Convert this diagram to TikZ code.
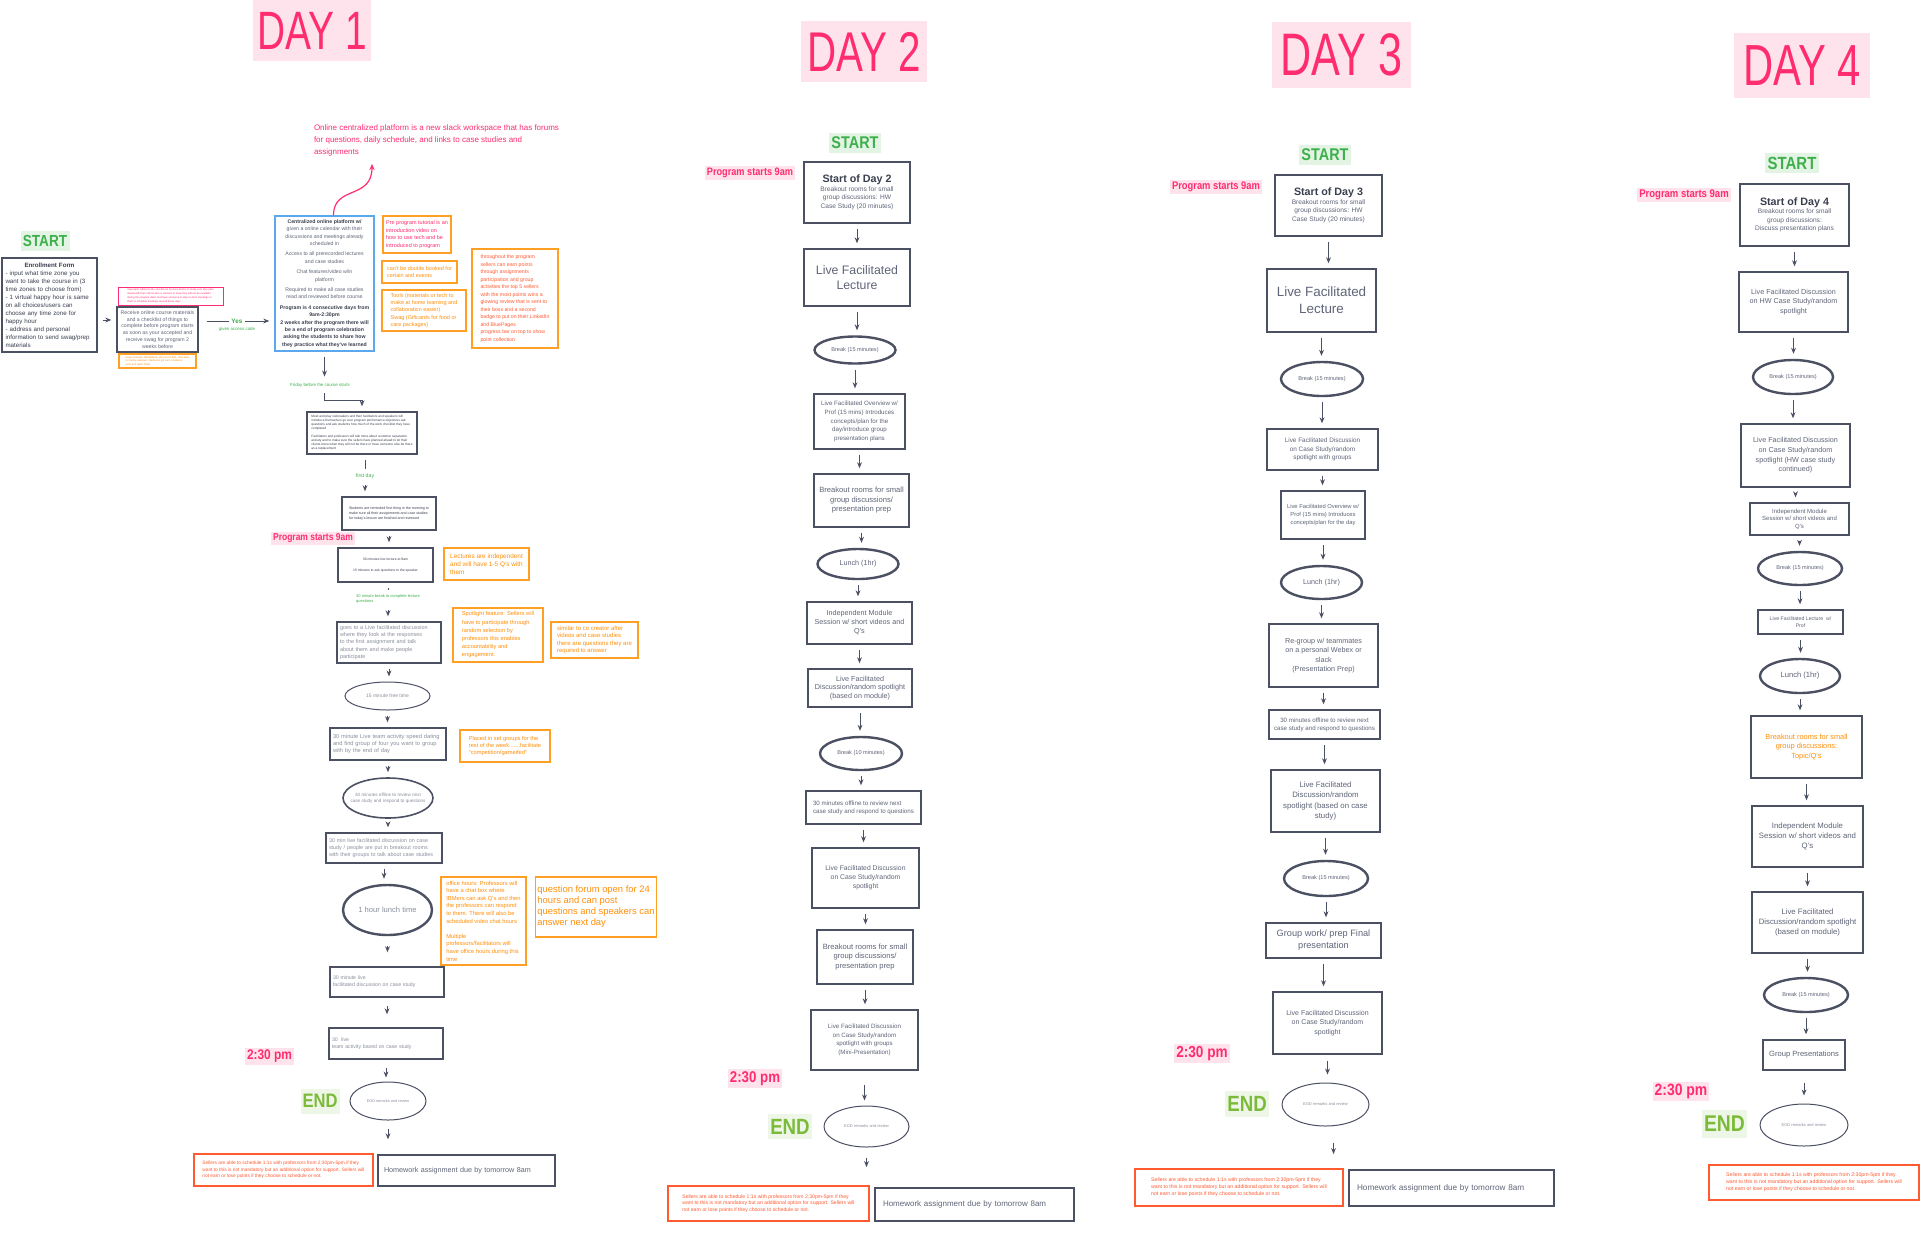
\documentclass[tikz,border=0pt]{standalone}
\usepackage{fontspec}
\setmainfont{Liberation Sans}
\newfontfamily\dayfont[FakeStretch=0.72]{Liberation Sans}
\newfontfamily\tagfont[FakeStretch=0.85]{Liberation Sans}
\usepackage{tikz}
\usetikzlibrary{arrows.meta,positioning,shapes.geometric}
\definecolor{fcline}{HTML}{4B5063}
\definecolor{fctext}{HTML}{5F6578}
\definecolor{fcpale}{HTML}{8A8F9C}
\definecolor{fcdark}{HTML}{3A3F4F}
\definecolor{fcorange}{HTML}{FFA024}
\definecolor{fcotext}{HTML}{FF8F0A}
\definecolor{fcpink}{HTML}{FF2D6F}
\definecolor{fcpinkbg}{HTML}{FFE3EC}
\definecolor{fcred}{HTML}{FF5A30}
\definecolor{fcgreen}{HTML}{3DB04B}
\definecolor{fcgreenbg}{HTML}{E4F4E4}
\definecolor{fclime}{HTML}{7CBB3A}
\definecolor{fclimebg}{HTML}{EEF6E8}
\definecolor{fcblue}{HTML}{5BA8EE}
\newcommand\fsz[2]{\fontsize{#1}{#2}\selectfont}
\newcommand\bdk[1]{\textcolor{fcdark}{\textbf{#1}}}

\begin{document}
\begin{tikzpicture}[x=0.5pt,y=-0.5pt,
    box/.style={draw=fcline,line width=0.7pt,fill=white,align=center,inner sep=1.5pt,text=fctext},
    leftbox/.style={box,align=left,text=fcpale,inner xsep=1.5pt},
    oval/.style={ellipse,draw=fcline,line width=0.5pt,fill=white,inner sep=0pt,align=center,text=fcpale},
    brk/.style={oval,line width=1.2pt,text=fctext},
    onote/.style={draw=fcorange,line width=0.9pt,align=left,inner sep=1pt,text=fcotext},
    rnote/.style={draw=fcred,line width=0.9pt,align=left,inner sep=1pt,text=fcred},
    daytag/.style={fill=fcpinkbg,text=fcpink,inner sep=0pt},
    starttag/.style={fill=fcgreenbg,text=fcgreen,inner sep=1pt},
    endtag/.style={fill=fclimebg,text=fclime,inner sep=1pt},
    timetag/.style={fill=fcpinkbg,text=fcpink,inner sep=1pt},
    cue/.style={text=fcgreen,align=left,inner sep=0.5pt},
    arr/.style={-{Stealth[length=3pt,width=2.4pt]},fcline,line width=0.5pt,shorten <=2.5pt,shorten >=2.5pt},
    ln/.style={fcline,line width=0.5pt,shorten <=2.5pt,shorten >=1.5pt}]
  \fill[white] (0,0) rectangle (1920,1232);
  \useasboundingbox (0,0) rectangle (1920,1232);

  % ---------- day 1 ----------
  \node[daytag,font=\dayfont\fsz{27}{27},minimum width=59pt,minimum height=30.5pt] (day1) at (312,30.5) {DAY 1};
  \node[text=fcpink,align=left,font=\fsz{4}{6},inner sep=0pt] (slack) at (436.5,140)
    {Online centralized platform is a new slack workspace that has forums\\for questions, daily schedule, and links to case studies and\\assignments};
  \coordinate (slackfoot) at (372,164);
  \node[starttag,font=\tagfont\bfseries\fsz{8}{8},minimum width=24.5pt,minimum height=10pt] (start1) at (45,241) {START};
  \node[box,align=left,text width=44pt,inner xsep=1.75pt,text=fcdark,font=\fsz{3.1}{4},minimum height=47pt] (enroll) at (49.5,305)
    {{\centering\textbf{Enrollment Form}\par}- input what time zone you\\want to take the course in (3\\time zones to choose from)\\- 1 virtual happy hour is same\\on all choices/users can\\choose any time zone for\\happy hour\\- address and personal\\information to send swag/prep\\materials};
  \node[draw=fcpink,line width=0.5pt,text=fcpink,align=left,font=\fsz{1.3}{1.9},inner sep=1pt,minimum width=52.5pt,minimum height=9pt] (warn) at (170.5,296)
    {Important! Added to the checklist to be done before to make sure they plan\\ahead with their clients and co workers to know they will not be available\\during the program dates and have someone to step in client meetings or\\them to schedule meetings around these days};
  \node[box,font=\fsz{2.6}{3.4},minimum width=40.5pt,minimum height=22.5pt] (recv) at (157.5,329.5)
    {Receive online course materials\\and a checklist of things to\\complete before program starts\\as soon as your accepted and\\receive swag for program 2\\weeks before};
  \node[onote,line width=0.6pt,font=\fsz{1.3}{1.8},minimum width=38.5pt,minimum height=7pt] (swag) at (157.5,361)
    {Swag includes: Rocketbook, gift card of \$50, Uber Eats\\for family, webcam, Starbucks gift card, notebook,\\pens and water bottle};
  \node[text=fcgreen,font=\bfseries\fsz{3.2}{3.2},inner sep=1pt] (yes) at (237,321) {Yes};
  \node[text=fcgreen,font=\fsz{2.2}{2.2},inner sep=0pt,below=0.5pt of yes] (code) {given access code};
  \node[box,draw=fcblue,font=\fsz{2.6}{3.7},minimum width=49.5pt,minimum height=67.5pt] (plat) at (324.5,283.5)
    {\bdk{Centralized online platform w/}\\given a online calendar with their\\discussions and meetings already\\scheduled in\\[1.5pt]Access to all prerecorded lectures\\and case studies\\[1.5pt]Chat features/video w/in\\platform\\[1.5pt]Required to make all case studies\\read and reviewed before course\\[1.5pt]\bdk{Program is 4 consecutive days from}\\\bdk{9am-2:30pm}\\\bdk{2 weeks after the program there will}\\\bdk{be a end of program celebration}\\\bdk{asking the students to share how}\\\bdk{they practice what they've learned}};
  \node[onote,text=fcpink,font=\fsz{2.75}{3.7},minimum width=34pt,minimum height=18.5pt] (tutorial) at (417,234.5)
    {Pre program tutorial is an\\introduction video on\\how to use tech and be\\introduced to program};
  \node[onote,font=\fsz{2.75}{3.7},minimum width=37.5pt,minimum height=11pt] (booked) at (419.5,272)
    {can't be double booked for\\certain and events};
  \node[onote,font=\fsz{2.75}{3.7},minimum width=42pt,minimum height=20.5pt] (tools) at (424,310.5)
    {Tools (materials or tech to\\make at home learning and\\collaboration easier)\\Swag (Giftcards for food or\\care packages)};
  \node[onote,text=fcred,font=\fsz{2.6}{3.75},minimum width=43pt,minimum height=49.5pt] (points) at (515,298.5)
    {throughout the program\\sellers can earn points\\through assignments\\participation and group\\activities the top 5 sellers\\with the most points wins a\\glowing review that is sent to\\their boss and a second\\badge to put on their LinkedIn\\and BluePages\\progress bar on top to show\\point collection};
  \node[cue,font=\fsz{2.2}{2.2}] (friday) at (320,385) {Friday before the course starts};
  \node[box,align=left,text=fcdark,font=\fsz{1.6}{2},minimum width=55pt,minimum height=21pt] (fridaybox) at (362,433)
    {Meet and play icebreakers and then facilitators and speakers will\\introduce themselves go over program performance objectives ask\\questions and ask students how much of the work checklist they have\\completed\\[2pt]Facilitators and professors will talk more about customer separation\\anxiety and to make sure the sellers have planned ahead to let their\\clients know when they will not be there or have someone else be there\\as a replacement};
  \node[cue,font=\fsz{2.6}{2.6}] (firstday) at (365,476) {first day};
  \node[box,align=left,text=fcdark,font=\fsz{1.8}{2.4},minimum width=47pt,minimum height=16.5pt] (students) at (389,513.5)
    {Students are reminded first thing in the morning to\\make sure all their assignments and case studies\\for today's lesson are finished and reviewed};
  \node[timetag,font=\tagfont\bfseries\fsz{5}{5},minimum width=40pt,minimum height=6.5pt] (nine1) at (313,538.5) {Program starts 9am};
  \node[box,text=fcdark,font=\fsz{1.7}{2.2},minimum width=47.5pt,minimum height=17pt] (lecture1) at (385.5,565)
    {30 minutes live lecture at 9am\\[3pt]15 minutes to ask questions to the speaker};
  \node[onote,font=\fsz{3.2}{4},minimum width=42.5pt,minimum height=16pt] (indep) at (486.5,564)
    {Lectures are independent\\and will have 1-5 Q's with\\them};
  \node[cue,font=\fsz{2}{2.5}] (qbreak) at (388,599) {30 minute break to complete lecture\\questions};
  \node[leftbox,text width=49pt,font=\fsz{2.75}{3.65},minimum height=20.5pt] (discuss) at (389,642.5)
    {goes to a Live facilitated discussion\\where they look at the responses\\to the first assignment and talk\\about them and make people\\participate};
  \node[onote,font=\fsz{2.85}{4.1},minimum width=45pt,minimum height=27pt] (spotlight) at (498,635)
    {Spotlight feature: Sellers will\\have to participate through\\random selection by\\professors this enables\\accountability and\\engagement.};
  \node[onote,font=\fsz{3}{3.7},minimum width=43.5pt,minimum height=18pt] (cocreator) at (594.5,640)
    {similar to co creator after\\videos and case studies\\there are questions they are\\required to answer};
  \node[oval,font=\fsz{2.5}{3},minimum width=42.5pt,minimum height=14pt] (free) at (387.5,696) {15 minute free time};
  \node[leftbox,text width=55pt,font=\fsz{2.85}{3.65},minimum height=16pt] (speed) at (388,744)
    {30 minute Live team activity speed dating\\and find group of four you want to group\\with by the end of day};
  \node[onote,font=\fsz{2.85}{3.7},minimum width=45pt,minimum height=16pt] (groups) at (505,746)
    {Placed in set groups for the\\rest of the week.......facilitate\\``competition/gameifed''};
  \node[oval,line width=0.8pt,inner xsep=-3pt,font=\fsz{2.3}{3},minimum width=45pt,minimum height=20pt] (offline1) at (388,798)
    {30 minutes offline to review next\\case study and respond to questions};
  \node[leftbox,text width=55pt,font=\fsz{2.7}{3.65},minimum height=15pt] (breakout1) at (384,848)
    {30 min live facilitated discussion on case\\study / people are put in breakout rooms\\with their groups to talk about case studies};
  \node[brk,text=fcpale,font=\fsz{3.8}{4},minimum width=44.5pt,minimum height=25pt] (lunch1) at (387.5,910) {1 hour lunch time};
  \node[onote,font=\fsz{2.9}{3.8},minimum width=42.5pt,minimum height=44pt] (office) at (483.5,921)
    {office hours: Professors will\\have a chat box where\\IBMers can ask Q's and then\\the professors can respond\\to them. There will also be\\scheduled video chat hours\\[3.8pt]Multiple\\professors/facilitators will\\have office hours during this\\time};
  \node[onote,font=\fsz{4.7}{5.5},minimum width=60pt,minimum height=30pt] (forum) at (596,907)
    {question forum open for 24\\hours and can post\\questions and speakers can\\answer next day};
  \node[leftbox,text width=54pt,font=\fsz{2.6}{3.6},minimum height=15pt] (casestudy1) at (387,982)
    {30 minute live\\facilitated discussion on case study};
  \node[leftbox,text width=54pt,font=\fsz{2.6}{3.6},minimum height=15.5pt] (team1) at (386,1043.5)
    {30\ \ live\\team activity based on case study};
  \node[timetag,font=\tagfont\bfseries\fsz{7}{7},minimum width=24pt,minimum height=8pt] (half1) at (269.5,1056.5) {2:30 pm};
  \node[endtag,font=\tagfont\bfseries\fsz{9.75}{9.75},minimum width=18pt,minimum height=12.5pt] (end1) at (320,1101) {END};
  \node[oval,font=\fsz{1.9}{2},minimum width=38pt,minimum height=19pt] (eod1) at (388,1101) {EOD remarks and review};
  \node[rnote,font=\fsz{2.4}{3.2},minimum width=89.5pt,minimum height=16pt] (support1) at (283.5,1170)
    {Sellers are able to schedule 1:1s with professors from 2:30pm-5pm if they\\want to this is not mandatory but an additional option for support. Sellers will\\not earn or lose points if they choose to schedule or not.};
  \node[box,align=left,font=\fsz{3.6}{4},text width=82.5pt,inner xsep=3pt,minimum height=15.5pt] (homework1) at (466.5,1170.5)
    {Homework assignment due by tomorrow 8am};

  \draw[arr] ([yshift=-7.5pt]enroll.east) -- ([yshift=-7.5pt]enroll.east -| recv.west);
  \draw[ln,shorten <=4pt,shorten >=0pt] (recv.east |- yes) -- (yes);
  \draw[arr,shorten <=0pt] (yes) -- (yes -| plat.west);
  \draw[-{Stealth[length=3pt,width=2.6pt]},fcpink,line width=0.6pt] ([xshift=4.5pt]plat.north) .. controls (333.5,185) and (372,200) .. (slackfoot);
  \draw[arr] (plat.south) -- (plat.south |- friday.north);
  \draw[arr] ([xshift=2pt]friday.south) -- ++(0,12) -| (fridaybox.north);
  \draw[ln] (fridaybox.south -| firstday) -- (firstday);
  \draw[arr] (firstday) -- (firstday |- students.north);
  \draw[arr] (students.south) -- (students.south |- lecture1.north);
  \draw[ln] (lecture1.south -| qbreak) -- (qbreak);
  \draw[arr] (qbreak) -- (qbreak |- discuss.north);
  \draw[arr] (discuss.south) -- (discuss.south |- free.north);
  \draw[arr] (free.south) -- (free.south |- speed.north);
  \draw[arr] (speed.south) -- (speed.south |- offline1.north);
  \draw[arr] (offline1.south) -- (offline1.south |- breakout1.north);
  \draw[arr] (breakout1.south) -- (breakout1.south |- lunch1.north);
  \draw[arr,shorten <=5pt,shorten >=7pt] (lunch1.south) -- (lunch1.south |- casestudy1.north);
  \draw[arr,shorten <=4pt,shorten >=6.5pt] (casestudy1.south) -- (casestudy1.south |- team1.north);
  \draw[arr,shorten <=4pt,shorten >=2pt] (team1.south) -- (team1.south |- eod1.north);
  \draw[arr,shorten <=4pt,shorten >=7.5pt] (eod1.south) -- (eod1.south |- homework1.north);

  % ---------- day 2 ----------
  \node[daytag,font=\dayfont\fsz{28}{28},minimum width=63pt,minimum height=30.5pt] (day2) at (864,51.5) {DAY 2};
  \node[starttag,font=\tagfont\bfseries\fsz{8.5}{8.5},minimum width=26pt,minimum height=10pt] (start2) at (855,143) {START};
  \node[timetag,font=\tagfont\bfseries\fsz{5.4}{5.4},minimum width=44pt,minimum height=7pt] (nine2) at (750,173) {Program starts 9am};
  \node[box,font=\fsz{3.3}{4.25},minimum width=53pt,minimum height=30.5pt] (open2) at (857,192.5)
    {\bdk{\fsz{5.35}{6.5}Start of Day 2}\\Breakout rooms for small\\group discussions: HW\\Case Study (20 minutes)};
  \node[box,font=\fsz{6.15}{7.7},minimum width=53pt,minimum height=28.5pt] (lec2) at (857,277.5) {Live Facilitated\\Lecture};
  \node[brk,font=\fsz{2.8}{3},minimum width=40.5pt,minimum height=13.5pt] (brk2a) at (855,350) {Break (15 minutes)};
  \node[box,font=\fsz{3.1}{4.3},minimum width=45.5pt,minimum height=27.5pt] (over2) at (859.5,421.5)
    {Live Facilitated Overview w/\\Prof (15 mins) Introduces\\concepts/plan for the\\day/introduce group\\presentation plans};
  \node[box,font=\fsz{3.8}{4.75},minimum width=47.5pt,minimum height=26.5pt] (room2a) at (861.5,500.5)
    {Breakout rooms for small\\group discussions/\\presentation prep};
  \node[brk,font=\fsz{3.6}{4},minimum width=40.5pt,minimum height=15pt] (lunch2) at (858,564) {Lunch (1hr)};
  \node[box,font=\fsz{3.6}{4.5},minimum width=52.5pt,minimum height=21pt] (mod2) at (859.5,623)
    {Independent Module\\Session w/ short videos and\\Q's};
  \node[box,font=\fsz{3.6}{4.4},minimum width=52pt,minimum height=19pt] (spot2a) at (860,688)
    {Live Facilitated\\Discussion/random spotlight\\(based on module)};
  \node[brk,font=\fsz{2.8}{3},minimum width=41pt,minimum height=16.5pt] (brk2b) at (861,753.5) {Break (10 minutes)};
  \node[box,align=left,font=\fsz{3.1}{3.9},minimum width=57.5pt,minimum height=16.5pt] (offline2) at (863.5,807.5)
    {30 minutes offline to review next\\case study and respond to questions};
  \node[box,font=\fsz{3.4}{4.6},minimum width=53.5pt,minimum height=30pt] (case2a) at (865.5,878)
    {Live Facilitated Discussion\\on Case Study/random\\spotlight};
  \node[box,font=\fsz{3.8}{4.75},minimum width=48pt,minimum height=27pt] (room2b) at (865,957)
    {Breakout rooms for small\\group discussions/\\presentation prep};
  \node[box,font=\fsz{3.1}{4.25},minimum width=53.5pt,minimum height=30pt] (mini2) at (864.5,1040)
    {Live Facilitated Discussion\\on Case Study/random\\spotlight with groups\\(Mini-Presentation)};
  \node[timetag,font=\tagfont\bfseries\fsz{7.8}{7.8},minimum width=26pt,minimum height=8.5pt] (half2) at (755,1078.5) {2:30 pm};
  \node[endtag,font=\tagfont\bfseries\fsz{11}{11},minimum width=20pt,minimum height=12.5pt] (end2) at (790,1126.5) {END};
  \node[oval,font=\fsz{2}{2},minimum width=42.5pt,minimum height=20.5pt] (eod2) at (866.5,1126.5) {EOD remarks and review};
  \node[rnote,font=\fsz{2.55}{3.4},minimum width=100.5pt,minimum height=17.5pt] (support2) at (768.5,1203.5)
    {Sellers are able to schedule 1:1s with professors from 2:30pm-5pm if they\\want to this is not mandatory but an additional option for support. Sellers will\\not earn or lose points if they choose to schedule or not.};
  \node[box,align=left,font=\fsz{4}{4.2},text width=91.5pt,inner xsep=4pt,minimum height=16.5pt] (homework2) at (974.5,1204.5)
    {Homework assignment due by tomorrow 8am};

  \draw[arr] (open2.south) -- (open2.south |- lec2.north);
  \draw[arr] (lec2.south) -- (lec2.south |- brk2a.north);
  \draw[arr] (brk2a.south) -- (brk2a.south |- over2.north);
  \draw[arr] (over2.south) -- (over2.south |- room2a.north);
  \draw[arr] (room2a.south) -- (room2a.south |- lunch2.north);
  \draw[arr] (lunch2.south) -- (lunch2.south |- mod2.north);
  \draw[arr] (mod2.south) -- (mod2.south |- spot2a.north);
  \draw[arr] (spot2a.south) -- (spot2a.south |- brk2b.north);
  \draw[arr] (brk2b.south) -- (brk2b.south |- offline2.north);
  \draw[arr] (offline2.south) -- (offline2.south |- case2a.north);
  \draw[arr] (case2a.south) -- (case2a.south |- room2b.north);
  \draw[arr] (room2b.south) -- (room2b.south |- mini2.north);
  \draw[arr,shorten <=7pt] (mini2.south) -- (mini2.south |- eod2.north);
  \draw[arr,shorten <=5pt,shorten >=9pt] (eod2.south) -- (eod2.south |- support2.north);

  % ---------- day 3 ----------
  \node[daytag,font=\dayfont\fsz{30}{30},minimum width=69.5pt,minimum height=33pt] (day3) at (1341.5,55) {DAY 3};
  \node[starttag,font=\tagfont\bfseries\fsz{8.5}{8.5},minimum width=26pt,minimum height=10pt] (start3) at (1325,155) {START};
  \node[timetag,font=\tagfont\bfseries\fsz{5.5}{5.5},minimum width=45pt,minimum height=7pt] (nine3) at (1216,187) {Program starts 9am};
  \node[box,font=\fsz{3.3}{4.25},minimum width=53.5pt,minimum height=30.5pt] (open3) at (1328.5,205.5)
    {\bdk{\fsz{5.35}{6.5}Start of Day 3}\\Breakout rooms for small\\group discussions: HW\\Case Study (20 minutes)};
  \node[box,font=\fsz{6.7}{8.3},minimum width=54.5pt,minimum height=31.5pt] (lec3) at (1321.5,300.5) {Live Facilitated\\Lecture};
  \node[brk,font=\fsz{2.8}{3},minimum width=41pt,minimum height=17pt] (brk3a) at (1322,379) {Break (15 minutes)};
  \node[box,font=\fsz{3.2}{4.35},minimum width=55.5pt,minimum height=20.5pt] (group3) at (1322.5,449.5)
    {Live Facilitated Discussion\\on Case Study/random\\spotlight with groups};
  \node[box,font=\fsz{2.9}{4},minimum width=42pt,minimum height=24pt] (over3) at (1323,515)
    {Live Facilitated Overview w/\\Prof (15 mins) Introduces\\concepts/plan for the day};
  \node[brk,font=\fsz{3.6}{4},minimum width=40.5pt,minimum height=16.5pt] (lunch3) at (1321.5,582.5) {Lunch (1hr)};
  \node[box,font=\fsz{3.6}{4.75},minimum width=54.5pt,minimum height=31.5pt] (regroup3) at (1323.5,655.5)
    {Re-group w/ teammates\\on a personal Webex or\\slack\\(Presentation Prep)};
  \node[box,font=\fsz{3.1}{3.9},minimum width=55.5pt,minimum height=14.5pt] (offline3) at (1324.5,724.5)
    {30 minutes offline to review next\\case study and respond to questions};
  \node[box,font=\fsz{3.9}{5.1},minimum width=54.5pt,minimum height=31pt] (spot3) at (1325.5,801)
    {Live Facilitated\\Discussion/random\\spotlight (based on case\\study)};
  \node[brk,font=\fsz{2.8}{3},minimum width=42pt,minimum height=17.5pt] (brk3b) at (1326,878.5) {Break (15 minutes)};
  \node[box,font=\fsz{4.6}{5.9},minimum width=57.5pt,minimum height=17.5pt] (final3) at (1323.5,940.5)
    {Group work/ prep Final\\presentation};
  \node[box,font=\fsz{3.5}{4.75},minimum width=54.5pt,minimum height=31pt] (case3) at (1327.5,1023)
    {Live Facilitated Discussion\\on Case Study/random\\spotlight};
  \node[timetag,font=\tagfont\bfseries\fsz{8}{8},minimum width=27pt,minimum height=8.5pt] (half3) at (1202,1053.5) {2:30 pm};
  \node[endtag,font=\tagfont\bfseries\fsz{11}{11},minimum width=20pt,minimum height=13pt] (end3) at (1247,1104) {END};
  \node[oval,font=\fsz{2}{2},minimum width=43.5pt,minimum height=21.5pt] (eod3) at (1325.5,1104.5) {EOD remarks and review};
  \node[rnote,font=\fsz{2.6}{3.5},minimum width=104pt,minimum height=18.5pt] (support3) at (1239,1187.5)
    {Sellers are able to schedule 1:1s with professors from 2:30pm-5pm if they\\want to this is not mandatory but an additional option for support. Sellers will\\not earn or lose points if they choose to schedule or not.};
  \node[box,align=left,font=\fsz{4.1}{4.3},text width=94.5pt,inner xsep=4pt,minimum height=18pt] (homework3) at (1451.5,1188)
    {Homework assignment due by tomorrow 8am};

  \draw[arr] (open3.south) -- (open3.south |- lec3.north);
  \draw[arr] (lec3.south) -- (lec3.south |- brk3a.north);
  \draw[arr] (brk3a.south) -- (brk3a.south |- group3.north);
  \draw[arr] (group3.south) -- (group3.south |- over3.north);
  \draw[arr] (over3.south) -- (over3.south |- lunch3.north);
  \draw[arr] (lunch3.south) -- (lunch3.south |- regroup3.north);
  \draw[arr] (regroup3.south) -- (regroup3.south |- offline3.north);
  \draw[arr] (offline3.south) -- (offline3.south |- spot3.north);
  \draw[arr] (spot3.south) -- (spot3.south |- brk3b.north);
  \draw[arr] (brk3b.south) -- (brk3b.south |- final3.north);
  \draw[arr] (final3.south) -- (final3.south |- case3.north);
  \draw[arr,shorten <=3pt,shorten >=4pt] (case3.south) -- (case3.south |- eod3.north);
  \draw[arr,shorten <=8pt,shorten >=7pt] ([xshift=4pt]eod3.south) -- ([xshift=4pt]eod3.south |- support3.north);

  % ---------- day 4 ----------
  \node[daytag,font=\dayfont\fsz{29}{29},minimum width=68pt,minimum height=32.5pt] (day4) at (1802,65.5) {DAY 4};
  \node[starttag,font=\tagfont\bfseries\fsz{8.8}{8.8},minimum width=27pt,minimum height=10pt] (start4) at (1792,163) {START};
  \node[timetag,font=\tagfont\bfseries\fsz{5.6}{5.6},minimum width=46pt,minimum height=7pt] (nine4) at (1684,195) {Program starts 9am};
  \node[box,font=\fsz{3.3}{4.25},minimum width=54.5pt,minimum height=31pt] (open4) at (1794.5,215)
    {\bdk{\fsz{5.35}{6.5}Start of Day 4}\\Breakout rooms for small\\group discussions:\\Discuss presentation plans};
  \node[box,font=\fsz{3.6}{4.8},minimum width=54.5pt,minimum height=30pt] (hw4) at (1793.5,302)
    {Live Facilitated Discussion\\on HW Case Study/random\\spotlight};
  \node[brk,font=\fsz{2.8}{3},minimum width=40pt,minimum height=17pt] (brk4a) at (1793,377) {Break (15 minutes)};
  \node[box,font=\fsz{3.6}{4.8},minimum width=54.5pt,minimum height=31.5pt] (cont4) at (1795.5,455.5)
    {Live Facilitated Discussion\\on Case Study/random\\spotlight (HW case study\\continued)};
  \node[box,font=\fsz{3}{3.8},minimum width=49.5pt,minimum height=16pt] (mod4a) at (1799.5,519)
    {Independent Module\\Session w/ short videos and\\Q's};
  \node[brk,font=\fsz{2.8}{3},minimum width=42pt,minimum height=16.5pt] (brk4b) at (1800,568.5) {Break (15 minutes)};
  \node[box,font=\fsz{2.6}{3.5},minimum width=42.5pt,minimum height=12pt] (prof4) at (1800.5,622)
    {Live Facilitated Lecture\ \ w/\\Prof};
  \node[brk,font=\fsz{3.8}{4},minimum width=40pt,minimum height=17pt] (lunch4) at (1800,676) {Lunch (1hr)};
  \node[box,text=fcotext,font=\fsz{3.7}{4.6},minimum width=55.5pt,minimum height=31pt] (topic4) at (1806.5,747)
    {Breakout rooms for small\\group discussions:\\Topic/Q's};
  \node[box,font=\fsz{3.9}{4.9},minimum width=55.5pt,minimum height=30.5pt] (mod4b) at (1807.5,836.5)
    {Independent Module\\Session w/ short videos and\\Q's};
  \node[box,font=\fsz{3.9}{4.9},minimum width=55.5pt,minimum height=30.5pt] (spot4) at (1807.5,922.5)
    {Live Facilitated\\Discussion/random spotlight\\(based on module)};
  \node[brk,font=\fsz{2.8}{3},minimum width=42pt,minimum height=17pt] (brk4c) at (1806,995) {Break (15 minutes)};
  \node[box,font=\fsz{3.8}{4},minimum width=41pt,minimum height=15pt] (present4) at (1804,1055) {Group Presentations};
  \node[timetag,font=\tagfont\bfseries\fsz{8.2}{8.2},minimum width=28pt,minimum height=9pt] (half4) at (1681,1091.5) {2:30 pm};
  \node[endtag,font=\tagfont\bfseries\fsz{11.4}{11.4},minimum width=21pt,minimum height=14pt] (end4) at (1724.5,1124) {END};
  \node[oval,font=\fsz{2}{2},minimum width=44pt,minimum height=21pt] (eod4) at (1804,1125) {EOD remarks and review};
  \node[rnote,font=\fsz{2.6}{3.5},minimum width=105pt,minimum height=17.5pt] (support4) at (1814,1182.5)
    {Sellers are able to schedule 1:1s with professors from 2:30pm-5pm if they\\want to this is not mandatory but an additional option for support. Sellers will\\not earn or lose points if they choose to schedule or not.};

  \draw[arr] (open4.south) -- (open4.south |- hw4.north);
  \draw[arr] (hw4.south) -- (hw4.south |- brk4a.north);
  \draw[arr] (brk4a.south) -- (brk4a.south |- cont4.north);
  \draw[arr] (cont4.south) -- (cont4.south |- mod4a.north);
  \draw[arr] (mod4a.south) -- (mod4a.south |- brk4b.north);
  \draw[arr] (brk4b.south) -- (brk4b.south |- prof4.north);
  \draw[arr] (prof4.south) -- (prof4.south |- lunch4.north);
  \draw[arr] (lunch4.south) -- (lunch4.south |- topic4.north);
  \draw[arr] (topic4.south) -- (topic4.south |- mod4b.north);
  \draw[arr] (mod4b.south) -- (mod4b.south |- spot4.north);
  \draw[arr] (spot4.south) -- (spot4.south |- brk4c.north);
  \draw[arr] (brk4c.south) -- (brk4c.south |- present4.north);
  \draw[arr,shorten <=6pt,shorten >=4pt] (present4.south) -- (present4.south |- eod4.north);
\end{tikzpicture}
\end{document}
